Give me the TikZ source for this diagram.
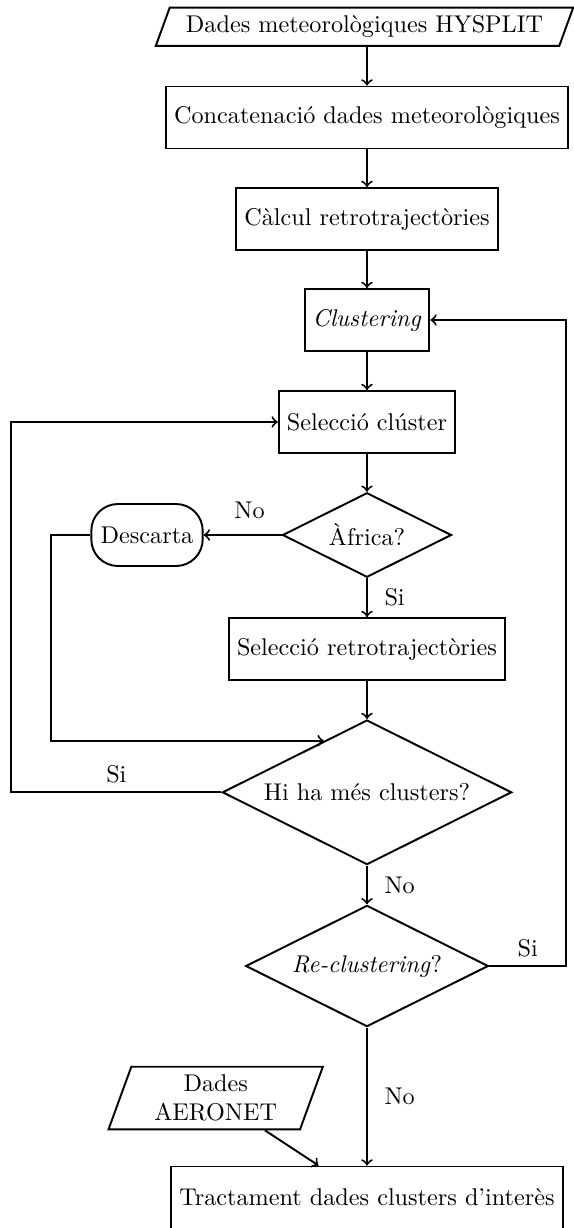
\documentclass[tikz,border=0pt]{standalone}
\usetikzlibrary{shapes.geometric,shapes.misc}
\tikzset{
  base/.style={draw, thick},
  proc/.style={base, rectangle, minimum height=25.6pt},
  io/.style={base, trapezium, trapezium left angle=70, trapezium right angle=110},
  dec/.style={base, diamond, aspect=2},
  term/.style={base, rectangle, rounded corners=11pt, minimum height=25.6pt, minimum width=46pt},
  arr/.style={->, thick},
  lab/.style={inner sep=3.33pt}
}
\begin{document}
\begin{tikzpicture}[x=0.413pt, y=-0.413pt]
\useasboundingbox (0,0) rectangle (574,1228);
\node[io, inner xsep=6.7pt] (hys) at (364.5,26.7) {Dades meteorològiques HYSPLIT};
\node[proc] (con) at (367,117.5) {Concatenació dades meteorològiques};
\node[proc] (cal) at (367,219) {Càlcul retrotrajectòries};
\node[proc] (clu) at (367,320) {\textit{Clustering}};
\node[proc] (sel) at (367,422) {Selecció clúster};
\node[dec] (afr) at (367,535) {Àfrica?};
\node[term] (des) at (147,535) {Descarta};
\node[proc] (ret) at (367,649) {Selecció retrotrajectòries};
\node[dec] (hi) at (367,792.3) {Hi ha més clusters?};
\node[dec] (re) at (367,966) {\textit{Re-clustering}?};
\node[io, align=center, inner xsep=9.5pt] (aer) at (215.7,1098) {Dades\\AERONET};
\node[proc] (tra) at (367,1197.5) {Tractament dades clusters d'interès};

\draw[arr] (hys.south -| con.north) -- (con.north);
\draw[arr] (con) -- (cal);
\draw[arr] (cal) -- (clu);
\draw[arr] (clu) -- (sel);
\draw[arr] (sel) -- (afr);
\draw[arr] (afr) -- node[lab, above, pos=0.41, yshift=3pt] {No} (des);
\draw[arr] (afr) -- node[lab, right, xshift=3.5pt] {Si} (ret);
\draw[arr] (ret) -- (hi);
\draw[arr] (des.west) -- ++(-39,0) |- (hi.130);
\draw[arr] (hi.west) -- node[lab, above] {Si} ++(-210,0) |- (sel.west);
\draw[arr] (hi) -- node[lab, right, xshift=3.5pt] {No} (re);
\draw[arr] (re.east) -- node[lab, above] {Si} ++(77,0) |- (clu.east);
\draw[arr] (re) -- node[lab, right, xshift=3.5pt] {No} (tra);
\draw[arr] (aer) -- ([xshift=-20pt]tra.north);
\end{tikzpicture}
\end{document}
